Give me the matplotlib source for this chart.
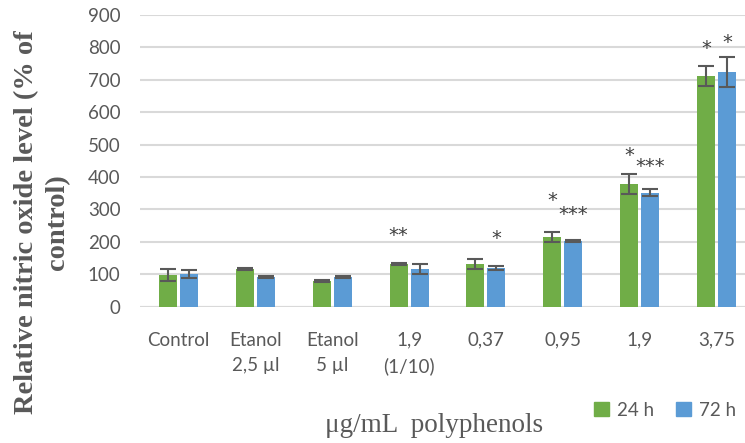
import numpy as np
import matplotlib
matplotlib.use("Agg")
import matplotlib.pyplot as plt
from matplotlib.patches import Patch

# relative NO level, % of control
categories = ["Control", "Etanol\n2,5 µl", "Etanol\n5 µl", "1,9\n(1/10)",
              "0,37", "0,95", "1,9", "3,75"]
no_24h = [98, 116, 79, 132, 132, 215, 378, 712]
no_72h = [100, 92, 92, 116, 119, 203, 352, 724]
err_24h = [18, 3, 2, 3, 16, 16, 31, 30]
err_72h = [12, 3, 4, 15, 6, 3, 10, 45]

# significance marks and the level they sit at
sig_24h = ["", "", "", "**", "", "*", "*", "*"]
sig_24h_y = [0, 0, 0, 221, 0, 329, 466, 798]
sig_72h = ["", "", "", "", "*", "***", "***", "*"]
sig_72h_y = [0, 0, 0, 0, 211, 283, 431, 814]

green = "#70ad47"
blue = "#5b9bd5"
grey = "#595959"
tick_font = ["Lato", "DejaVu Sans"]

fig = plt.figure(figsize=(7.45, 4.43), dpi=100)
ax = fig.add_axes([140/745, 0.3077, 615/745, 0.6585])

x = np.arange(len(categories))
w = 0.234
off = 0.137
ekw = dict(ecolor=grey, elinewidth=1.5, capsize=6, capthick=1.5)
ax.bar(x - off, no_24h, w, color=green, yerr=err_24h, error_kw=ekw, zorder=3)
ax.bar(x + off, no_72h, w, color=blue, yerr=err_72h, error_kw=ekw, zorder=3)

for i in range(len(categories)):
    if sig_24h[i]:
        ax.text(x[i] - off, sig_24h_y[i], sig_24h[i], ha="center", va="center",
                fontsize=14, color="#404040")
    if sig_72h[i]:
        ax.text(x[i] + off, sig_72h_y[i], sig_72h[i], ha="center", va="center",
                fontsize=14, color="#404040")

ax.set_xlim(-0.5, len(categories) - 0.5)
ax.set_ylim(0, 900)
ax.set_yticks(np.arange(0, 901, 100))
ax.yaxis.grid(True, color="#d9d9d9", linewidth=1.5, zorder=0)
for s in ax.spines.values():
    s.set_visible(False)
ax.axhline(0, color="#d9d9d9", linewidth=1.5, zorder=1)
ax.tick_params(length=0, colors=grey, labelsize=13.5)
ax.tick_params(axis="y", pad=14)
ax.tick_params(axis="x", pad=18)
ax.set_xticks(x)
ax.set_xticklabels(categories, linespacing=1.6)
for lab in ax.get_xticklabels() + ax.get_yticklabels():
    lab.set_family(tick_font)

fig.text(42/745, 1 - 222/443, "Relative nitric oxide level (% of\ncontrol)",
         rotation=90, ha="center", va="center", family="Liberation Serif",
         fontweight="bold", fontsize=20.5, color=grey, linespacing=1.3)
fig.text(434/745, 1 - 426/443, "μg/mL  polyphenols", ha="center", va="center",
         family="Liberation Serif", fontsize=19.5, color=grey)

handles = [Patch(color=green, label="24 h"), Patch(color=blue, label="72 h")]
fig.legend(handles=handles, loc="center", bbox_to_anchor=(665/745, 1 - 410/443),
           ncol=2, frameon=False, handlelength=0.8, handleheight=0.8,
           handletextpad=0.4, columnspacing=1.2, prop={"family": tick_font, "size": 13.5},
           labelcolor=grey)

fig.savefig("out.png", dpi=100)
